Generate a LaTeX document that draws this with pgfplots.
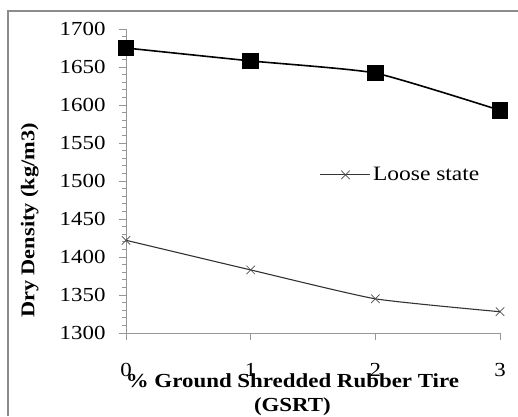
\documentclass[border=0pt]{standalone}
\usepackage{fontspec}
\setmainfont{Liberation Serif}[FakeStretch=1.15]
\usepackage{pgfplots}
\pgfplotsset{compat=1.18}

\definecolor{axgray}{RGB}{150,150,150}
\definecolor{framegray}{RGB}{140,140,140}

\begin{document}
\begin{tikzpicture}[x=1bp,y=1bp]
\useasboundingbox (0,0) rectangle (518,416);
\draw[framegray, line width=1.5bp] (8,0) -- (8,405) -- (520,405);
\begin{axis}[
  at={(126bp,83bp)},
  anchor=origin,
  scale only axis,
  width=374bp,
  height=304bp,
  xmin=0, xmax=3,
  ymin=1300, ymax=1700,
  xtick={0,1,2,3},
  ytick={1300,1350,...,1700},
  minor y tick num=4,
  axis x line*=bottom,
  axis y line*=left,
  axis line style={axgray, line width=0.8bp, -},
  tick style={axgray, line width=0.8bp},
  tick align=outside,
  major tick length=7bp,
  minor tick length=4bp,
  tick label style={font=\fontsize{20}{22}\selectfont},
  /pgf/number format/assume math mode=true,
  /pgf/number format/1000 sep={},
  xticklabel style={yshift=-20bp},
  yticklabel style={xshift=-10bp},
  xlabel={\textbf{\% Ground Shredded Rubber Tire}\\\textbf{(GSRT)}},
  xlabel style={font=\fontsize{20}{24}\selectfont, align=center, anchor=north,
    at={(axis description cs:0.445,0)}, yshift=-37bp},
  ylabel={\textbf{Dry Density (kg/m3)}},
  ylabel style={font=\fontsize{19.5}{21}\selectfont, rotate=0, anchor=center,
    at={(axis description cs:-0.257,0.37)}},
  legend style={draw=none, fill=none, at={(axis description cs:0.518,0.52)},
    anchor=west, font=\fontsize{20.5}{22}\selectfont, inner sep=0pt},
  legend cell align=left,
  legend image code/.code={
    \draw[#1, mark repeat=2, mark phase=2, sharp plot]
      plot coordinates {(0bp,0bp) (25bp,0bp) (50bp,0bp)};},
  clip=false,
]
\addplot[black, line width=1.6bp, smooth, tension=0.3, mark=square*, mark size=7.5bp,
  mark options={solid}, forget plot]
  coordinates {(0,1675) (1,1658) (2,1642) (3,1593)};
\addplot[black!80, line width=1.1bp, smooth, tension=0.3, mark=x, mark size=6bp,
  mark options={line width=0.7bp, black!70}]
  coordinates {(0,1422) (1,1383) (2,1345) (3,1328)};
\addlegendentry{Loose state}
\end{axis}
\end{tikzpicture}
\end{document}
